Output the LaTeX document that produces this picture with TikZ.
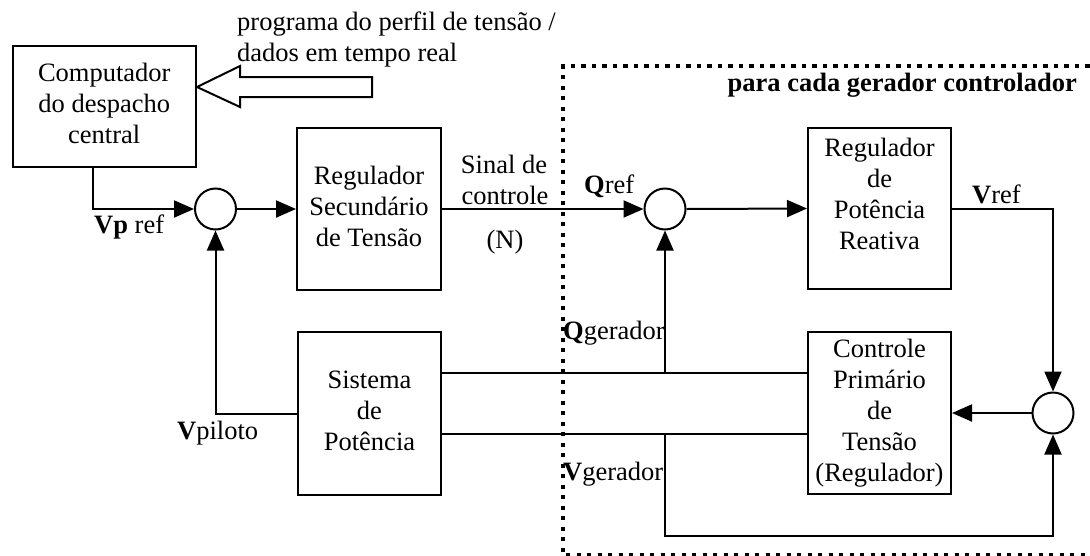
\documentclass[tikz,border=0pt]{standalone}
\usepackage{fontspec}
\setmainfont{Liberation Serif}
\usetikzlibrary{arrows.meta,calc}
\begin{document}
\begin{tikzpicture}[x=1pt,y=-1pt,
  every node/.style={font=\fontsize{26.5}{31}\selectfont, inner sep=0pt},
  box/.style={draw, line width=2pt, align=center},
  sumpt/.style={draw, circle, line width=2pt, minimum size=41pt},
  wire/.style={line width=2pt},
  arr/.style={line width=2pt, -{Triangle[length=20pt,width=17pt]}},
  lbl/.style={anchor=base west},
  boxtext/.style={align=center}
]
\useasboundingbox (0,0) rectangle (1090,555);

% dotted region
\draw[line width=4pt, dash pattern=on 4.3pt off 6.2pt] (1100,66) -- (563,66) -- (563,555) -- (1100,555);

% boxes
\node[box, minimum width=183.5pt, minimum height=121pt] (comp) at (104.25,106.5)
  {\strut Computador\\\strut do despacho\\\strut central};
\node[box, minimum width=144pt, minimum height=162pt] (rss) at (369,209)
  {\strut Regulador\\\strut Secundário\\\strut de Tensão};
\node[box, minimum width=143pt, minimum height=163pt] (sis) at (369.5,413.5)
  {\strut Sistema\\\strut de\\\strut Potência};
\node[box, minimum width=143pt, minimum height=161pt] (rpr) at (879.5,208.5) {};
\node[boxtext] (rprt) at (879.5,196.3)
  {\strut Regulador\\\strut de\\\strut Potência\\\strut Reativa};
\node[box, minimum width=143pt, minimum height=162pt] (cpt) at (879.5,413)
  {\strut Controle\\\strut Primário\\\strut de\\\strut Tensão\\\strut (Regulador)};

% summing points
\node[sumpt] (c1) at (215.5,209) {};
\node[sumpt] (c2) at (665,209) {};
\node[sumpt] (c3) at (1053,413) {};

% hollow input arrow
\coordinate (tip) at (comp.east |- 0,87);
\draw[line width=2pt, line join=miter] (tip) -- ++(43,-21) -- ++(0,11) -- ++(132,0) -- ++(0,20) -- ++(-132,0) -- ++(0,10) -- cycle;

% texts
\node[lbl] (prog1) at (237,30) {programa do perfil de tensão /};
\node[lbl] (prog2) at (237,61) {dados em tempo real};
\node[anchor=base east] (cada) at (1077,91) {\textbf{para cada gerador controlador}};
\node[lbl] (vpref) at (94,233) {\textbf{Vp} ref};
\node[lbl] (vpil) at (177,439) {\textbf{V}piloto};
\node[anchor=base] (sin1) at (504,173) {Sinal de};
\node[anchor=base] (sin2) at (505,204) {controle};
\node[anchor=base] (nn) at (505,248) {(N)};
\node[lbl] (qref) at (584,193) {\textbf{Q}ref};
\node[lbl] (vref) at (972,203) {\textbf{V}ref};
\node[lbl] (qger) at (563,339) {\textbf{Q}gerador};
\node[lbl] (vger) at (563,480) {\textbf{V}gerador};

% connectors
\draw[arr] ([xshift=81.5pt]comp.south west) |- (c1.west);
\draw[arr] (c1.east) -- (rss.west);
\draw[arr] (rss.east) -- (c2.west);
\draw[arr] (c2.east) -- (rpr.west);
\draw[arr] (rpr.east) -| (c3.north);
\draw[arr] (c3.west) -- (cpt.east);
\draw[arr] (sis.west) -| (c1.south);

\coordinate (su) at ([yshift=41pt]sis.east);
\coordinate (sl) at ([yshift=-20pt]sis.east);
\draw[wire] (su) -- (cpt.west |- su);
\draw[wire] (sl) -- (cpt.west |- sl);
\coordinate (qj) at (c2 |- su);
\coordinate (vj) at (c2 |- sl);
\coordinate (vb) at ($(vj)+(0,102.5)$);
\draw[arr] (qj) -- (c2.south);
\draw[arr] (vj) -- (vb) -| (c3.south);
\end{tikzpicture}
\end{document}
